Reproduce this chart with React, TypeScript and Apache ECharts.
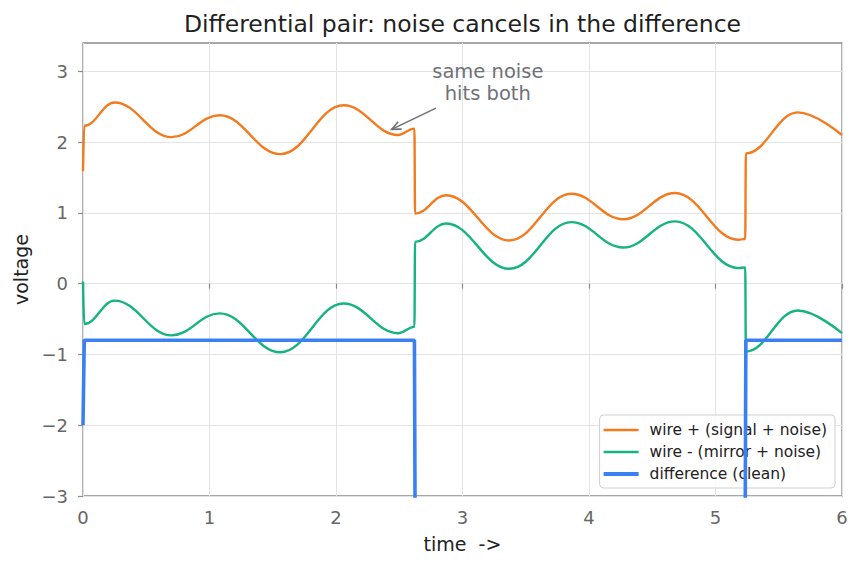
import React, { useEffect, useRef } from "react";
import * as echarts from "echarts";

// Sample times (s): the edges plus every noise peak and trough.
const time = [
  0, 0.01, 0.25, 0.7, 1.08, 1.56, 2.06, 2.49, 2.62, 2.625, 2.87, 3.37, 3.86,
  4.27, 4.68, 5.18, 5.235, 5.24, 5.65, 6.0,
];

const wirePlus = [
  1.59, 2.23, 2.56, 2.07, 2.38, 1.83, 2.52, 2.1, 2.19, 0.99, 1.25, 0.61, 1.27,
  0.91, 1.28, 0.62, 0.63, 1.84, 2.42, 2.1,
];

const wireMinus = [
  0.03, -0.57, -0.24, -0.73, -0.42, -0.97, -0.28, -0.7, -0.61, 0.59, 0.85, 0.21,
  0.87, 0.51, 0.88, 0.22, 0.23, -0.96, -0.38, -0.7,
];

// The difference trace only changes at the edges.
const diffTime = [0, 0.01, 2.62, 2.625, 5.235, 5.24, 6.0];
const difference = [-2.0, -0.8, -0.8, -3.2, -3.2, -0.8, -0.8];

const seriesNames = [
  "wire + (signal + noise)",
  "wire - (mirror + noise)",
  "difference (clean)",
];
const seriesColors = ["#f27a1f", "#14b381", "#3b80f2"];

const xTicks = [0, 1, 2, 3, 4, 5, 6];
const yTicks = [-3, -2, -1, 0, 1, 2, 3];

const titleText = "Differential pair: noise cancels in the difference";
const noteText = "same noise\nhits both";
const noteAt = [3.2, 2.845];
const arrowFrom = [2.79, 2.48];
const arrowTo = [2.44, 2.18];

const FONT = "DejaVu Sans";
const fmt = (v: number) => (v < 0 ? "\u2212" + Math.abs(v) : String(v));
const pairs = (xs: number[], ys: number[]) => xs.map((x, i) => [x, ys[i]]);

// Flat bar icons so the legend keys show plain line strokes.
const thinKey = "path://M0,0H70V5H0Z";
const thickKey = "path://M0,0H70V8H0Z";

export default function App() {
  const ref = useRef<HTMLDivElement>(null);

  useEffect(() => {
    if (!ref.current) return;
    document.body.style.margin = "0";
    const chart = echarts.init(ref.current, null, { renderer: "svg" });

    const axisGray = "#8a8a8a";
    // Wires are drawn through their extremes with flat tangents, giving sine-like arcs.
    const lineSeries = (i: number, data: number[][], width: number, smooth: number) => ({
      name: seriesNames[i],
      type: "line",
      data,
      smooth,
      smoothMonotone: "x",
      symbol: "none",
      lineStyle: { color: seriesColors[i], width },
      itemStyle: { color: seriesColors[i] },
      z: 3 + (i === 2 ? 1 : 0),
    });

    chart.setOption({
      animation: false,
      backgroundColor: "#ffffff",
      grid: {
        left: 83,
        right: 20,
        top: 43,
        bottom: 73,
        show: true,
        borderColor: axisGray,
        borderWidth: 1.3,
        backgroundColor: "transparent",
      },
      xAxis: {
        type: "value",
        min: 0,
        max: 6,
        interval: 1,
        name: "time  ->",
        nameLocation: "middle",
        nameGap: 38,
        nameTextStyle: { fontFamily: FONT, fontSize: 19, color: "#222" },
        axisLine: { show: false },
        axisTick: { show: true, inside: false, length: 5, lineStyle: { color: axisGray, width: 1.2 } },
        axisLabel: {
          customValues: xTicks,
          formatter: fmt,
          margin: 12,
          fontFamily: FONT,
          fontSize: 18,
          color: "#666",
        },
        splitLine: { show: true, lineStyle: { color: "#e3e3e3", width: 1 } },
      },
      yAxis: {
        type: "value",
        min: -3,
        max: 3.4,
        interval: 1,
        name: "voltage",
        nameLocation: "middle",
        nameGap: 45,
        nameTextStyle: { fontFamily: FONT, fontSize: 19, color: "#222" },
        axisLine: { show: false },
        axisTick: {
          show: true,
          inside: false,
          length: 5,
          customValues: yTicks,
          lineStyle: { color: axisGray, width: 1.2 },
        },
        axisLabel: {
          customValues: yTicks,
          formatter: fmt,
          margin: 15,
          fontFamily: FONT,
          fontSize: 18,
          color: "#666",
        },
        splitLine: { show: true, lineStyle: { color: "#e3e3e3", width: 1 } },
      },
      legend: {
        orient: "vertical",
        right: 27,
        bottom: 81,
        itemWidth: 35,
        itemHeight: 14,
        itemGap: 6,
        padding: [7, 8, 6, 4],
        backgroundColor: "rgba(255,255,255,0.82)",
        borderColor: "#cfcfcf",
        borderWidth: 1,
        borderRadius: 4,
        textStyle: { fontFamily: FONT, fontSize: 15.5, color: "#222", padding: [0, 0, 0, 6] },
        data: [
          { name: seriesNames[0], icon: thinKey },
          { name: seriesNames[1], icon: thinKey },
          { name: seriesNames[2], icon: thickKey },
        ],
      },
      series: [
        lineSeries(0, pairs(time, wirePlus), 2.4, 0.4),
        lineSeries(1, pairs(time, wireMinus), 2.4, 0.4),
        lineSeries(2, pairs(diffTime, difference), 3.6, 0),
      ],
    });

    // Title, note and arrow are positioned from the grid's coordinate system.
    const px = (p: number[]) => chart.convertToPixel({ gridIndex: 0 }, p) as number[];
    const center = px([3, 0]);
    const note = px(noteAt);
    const tail = px(arrowFrom);
    const tip = px(arrowTo);
    const ang = Math.atan2(tail[1] - tip[1], tail[0] - tip[0]);
    const headLen = 10;
    const spread = 0.42;
    const h1 = [tip[0] + headLen * Math.cos(ang + spread), tip[1] + headLen * Math.sin(ang + spread)];
    const h2 = [tip[0] + headLen * Math.cos(ang - spread), tip[1] + headLen * Math.sin(ang - spread)];
    const noteColor = "#6f7177";

    chart.setOption({
      graphic: [
        {
          type: "text",
          x: center[0],
          y: 24,
          style: {
            text: titleText,
            fontFamily: FONT,
            fontSize: 23.5,
            fill: "#1f1f1f",
            align: "center",
            verticalAlign: "middle",
          },
        },
        {
          type: "text",
          x: note[0],
          y: note[1],
          z: 10,
          style: {
            text: noteText,
            fontFamily: FONT,
            fontSize: 19.5,
            lineHeight: 21.5,
            fill: noteColor,
            align: "center",
            verticalAlign: "middle",
          },
        },
        {
          type: "line",
          z: 10,
          shape: { x1: tail[0], y1: tail[1], x2: tip[0], y2: tip[1] },
          style: { stroke: noteColor, lineWidth: 1.6 },
        },
        {
          type: "polyline",
          z: 10,
          shape: { points: [h1, tip, h2] },
          style: { stroke: noteColor, lineWidth: 1.6, fill: null },
        },
      ],
    });

    return () => chart.dispose();
  }, []);

  return <div ref={ref} style={{ width: 862, height: 569 }} />;
}
